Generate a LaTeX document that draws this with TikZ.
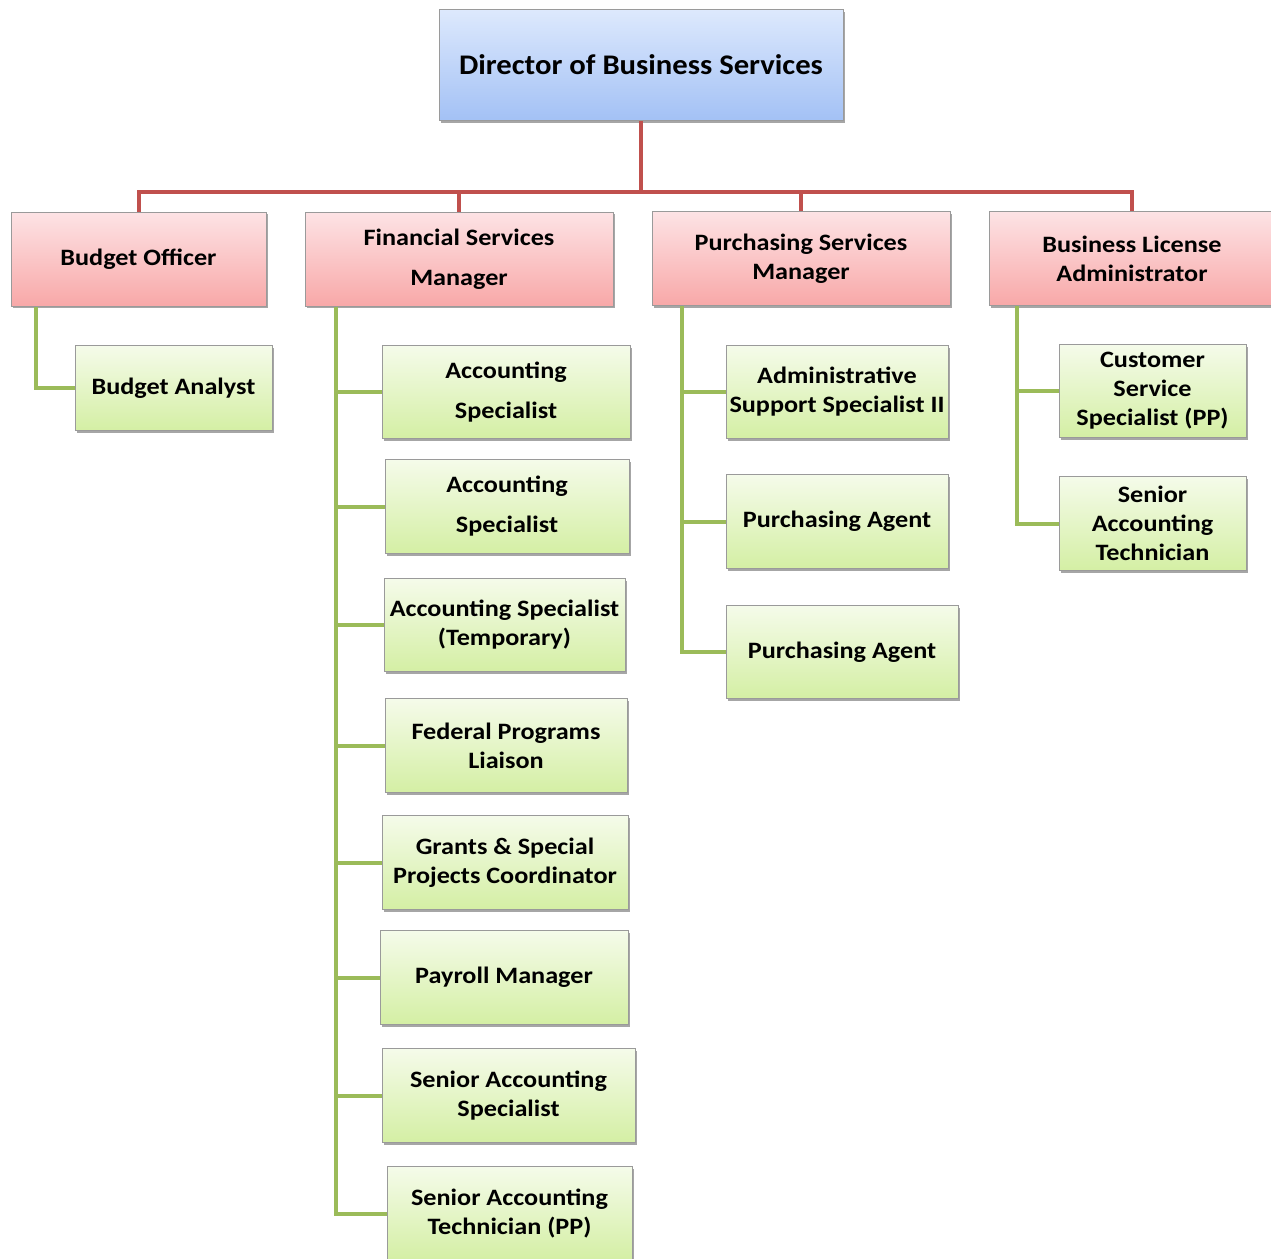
\documentclass[tikz,border=0pt]{standalone}
\usepackage{fontspec}
\setmainfont{Carlito}[FakeStretch=1.115]
\newfontfamily\dirfont{Carlito}[FakeStretch=1.08]
\usetikzlibrary{shadows}
\definecolor{redline}{HTML}{C0504D}
\definecolor{greenline}{HTML}{9BBB59}
\definecolor{bluetop}{HTML}{DDE9FD}
\definecolor{bluebot}{HTML}{A3C1F5}
\definecolor{redtop}{HTML}{FDE3E5}
\definecolor{redbot}{HTML}{F8A8A8}
\definecolor{greentop}{HTML}{F5FBEA}
\definecolor{greenbot}{HTML}{D4EFA4}
\definecolor{edge}{HTML}{9A9A9A}
\tikzset{
  base/.style={draw=edge, line width=1pt, align=center, inner sep=0pt,
    font=\bfseries\fontsize{23.5}{29}\selectfont,
    drop shadow={shadow xshift=2pt, shadow yshift=-2pt, opacity=0.35, fill=black}},
  bluebox/.style={base, top color=bluetop, bottom color=bluebot},
  redbox/.style={base, top color=redtop, bottom color=redbot},
  greenbox/.style={base, top color=greentop, bottom color=greenbot},
  redconn/.style={draw=redline, line width=4pt},
  greenconn/.style={draw=greenline, line width=4pt},
}
\begin{document}
\begin{tikzpicture}[x=1pt,y=-1pt]
\useasboundingbox (0,0) rectangle (1271,1258);
\fill[white] (0,0) rectangle (1271,1258);
\node[bluebox, minimum width=404, minimum height=111, font=\dirfont\bfseries\fontsize{28.4}{32}\selectfont] (dir) at (641,65) {Director of Business Services};

\node[redbox, minimum width=255, minimum height=94] (bo) at (138.5,259) {Budget Officer};
\node[redbox, minimum width=308, minimum height=94] (fsm) at (459,259) {Financial Services\\[11pt]Manager};
\node[redbox, minimum width=298, minimum height=94] (psm) at (801,258.5) {Purchasing Services\\Manager};
\node[redbox, minimum width=286, minimum height=94] (bla) at (1132,258.5) {Business License\\Administrator};

\node[greenbox, minimum width=197, minimum height=85] (ba) at (173.5,388) {Budget Analyst};

\node[greenbox, minimum width=248, minimum height=93] (as1) at (506,392) {Accounting\\[11pt]Specialist};
\node[greenbox, minimum width=244, minimum height=94] (as2) at (507,506.5) {Accounting\\[11pt]Specialist};
\node[greenbox, minimum width=241, minimum height=93] (ast) at (504.5,625) {Accounting Specialist\\(Temporary)};
\node[greenbox, minimum width=242, minimum height=94] (fpl) at (506,745.5) {Federal Programs\\Liaison};
\node[greenbox, minimum width=246, minimum height=94] (gsp) at (505,862.5) {Grants \& Special\\Projects Coordinator};
\node[greenbox, minimum width=248, minimum height=94] (pm) at (504,977.5) {Payroll Manager};
\node[greenbox, minimum width=253, minimum height=94] (sas) at (508.5,1095.5) {Senior Accounting\\Specialist};
\node[greenbox, minimum width=245, minimum height=94] (satpp) at (509.5,1213.5) {Senior Accounting\\Technician (PP)};

\node[greenbox, minimum width=222, minimum height=93] (ass) at (837,392) {Administrative\\Support Specialist II};
\node[greenbox, minimum width=222, minimum height=94] (pa1) at (837,521.5) {Purchasing Agent};
\node[greenbox, minimum width=232, minimum height=93] (pa2) at (842,652) {Purchasing Agent};

\node[greenbox, minimum width=187, minimum height=93] (css) at (1152.5,391) {Customer\\Service\\Specialist (PP)};
\node[greenbox, minimum width=187, minimum height=94] (sat) at (1152.5,523.5) {Senior\\Accounting\\Technician};

% red connectors
\draw[redconn] (dir.south) -- ++(0,71) -| (bo.north);
\draw[redconn] (dir.south) -- ++(0,71) -| (fsm.north);
\draw[redconn] (dir.south) -- ++(0,71) -| (psm.north);
\draw[redconn] (dir.south) -- ++(0,71) -| (bla.north);

% green connectors
\draw[greenconn] ([xshift=25pt]bo.south west) |- (ba.west);
\foreach \c in {as1,as2,ast,fpl,gsp,pm,sas,satpp}
  \draw[greenconn] ([xshift=31pt]fsm.south west) |- (\c.west);
\foreach \c in {ass,pa1,pa2}
  \draw[greenconn] ([xshift=30pt]psm.south west) |- (\c.west);
\foreach \c in {css,sat}
  \draw[greenconn] ([xshift=28pt]bla.south west) |- (\c.west);
\end{tikzpicture}
\end{document}
